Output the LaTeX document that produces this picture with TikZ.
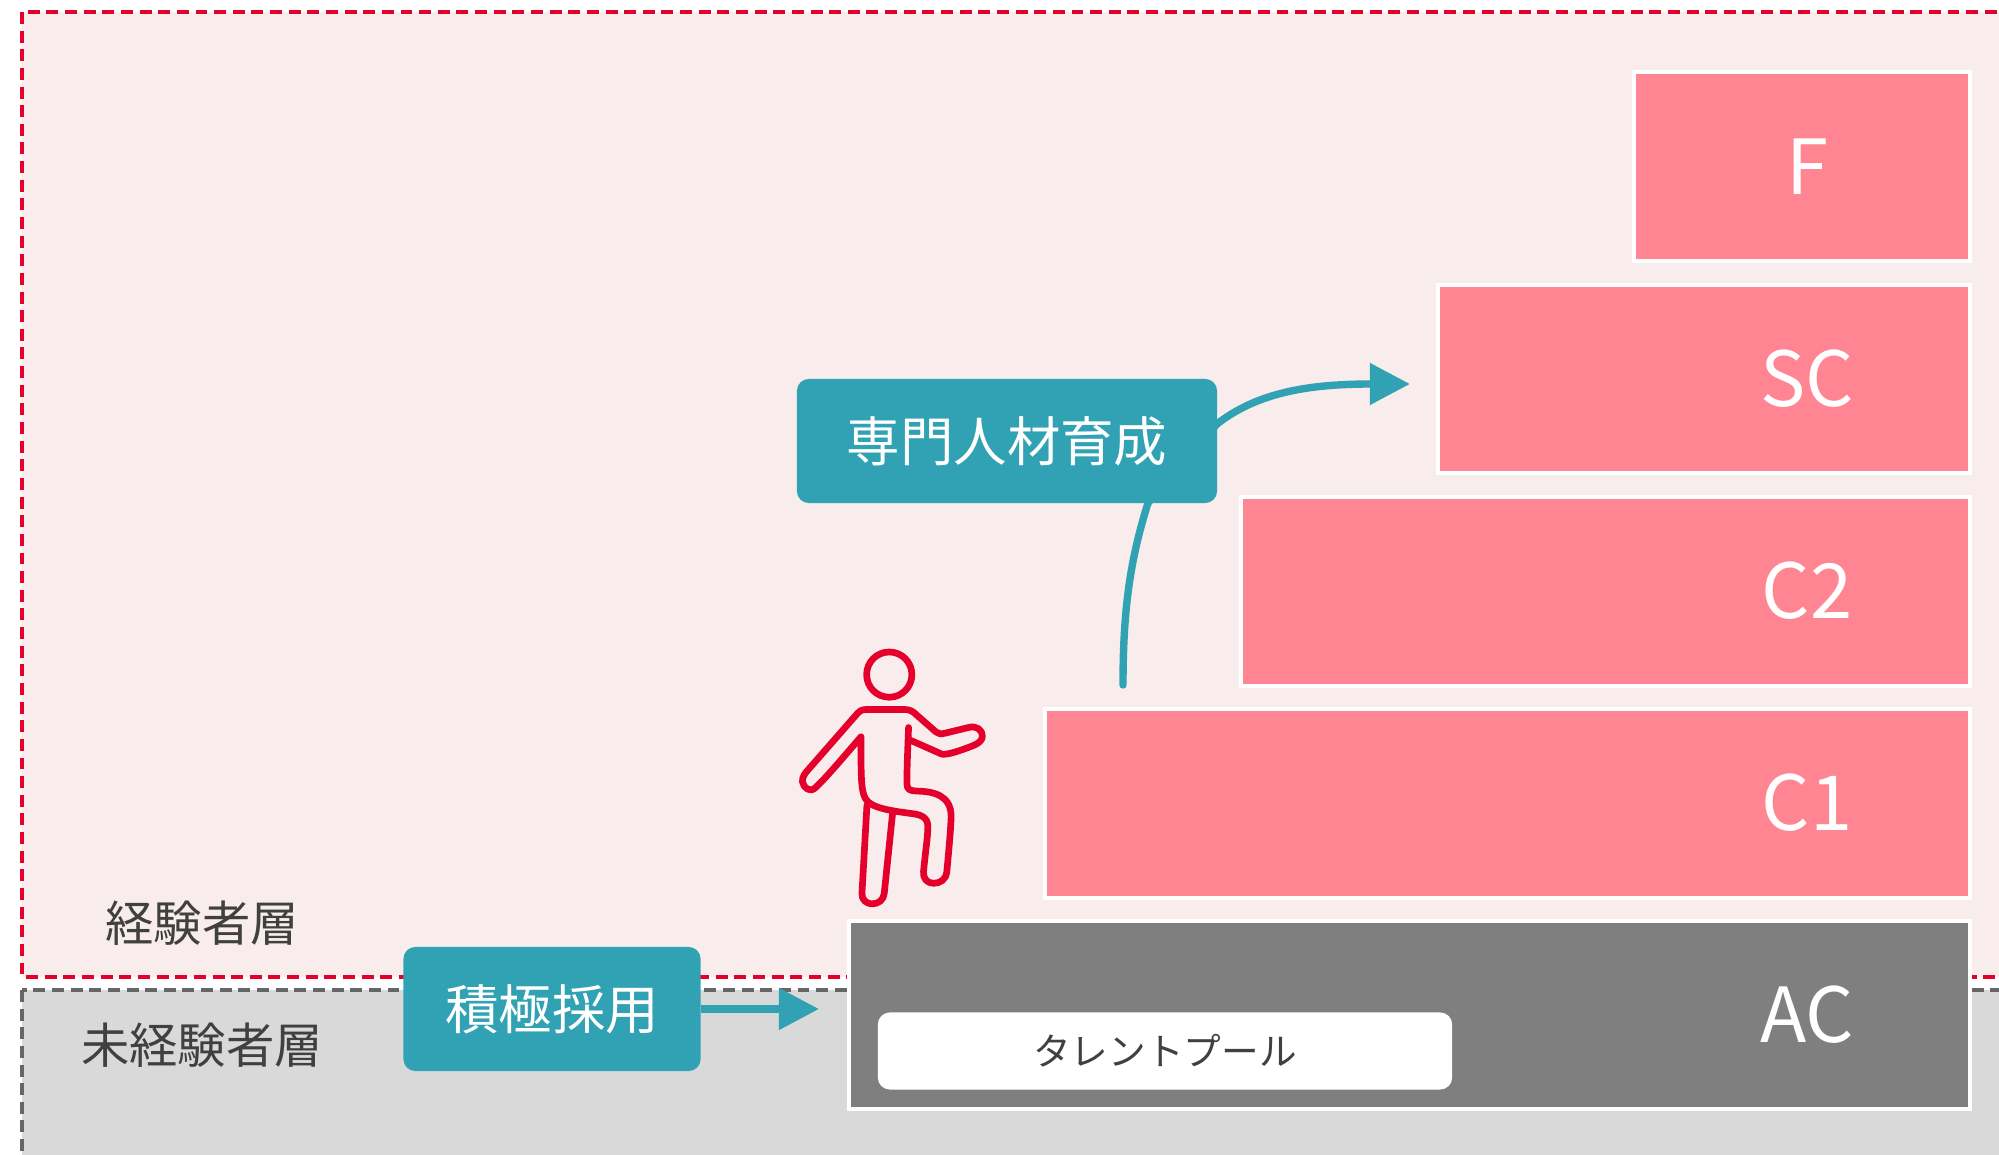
\documentclass[tikz,border=0pt]{standalone}
\usepackage{fontspec}
\setmainfont{Noto Sans CJK JP}
\usetikzlibrary{arrows.meta}
\definecolor{bgpink}{HTML}{F8ECEC}
\definecolor{bggray}{HTML}{D9D9D9}
\definecolor{lvlpink}{HTML}{FF8593}
\definecolor{lvlgray}{HTML}{7F7F7F}
\definecolor{tealbox}{HTML}{31A2B3}
\definecolor{redline}{HTML}{E4002B}
\definecolor{darktext}{HTML}{404040}
\tikzset{
    levelbox/.style={draw=white, line width=1.14pt},
    levellabel/.style={text=white, font=\fontsize{21.6}{26}\selectfont, inner sep=0pt},
    tealnode/.style={fill=tealbox, rounded corners=3.4pt, inner sep=0pt, text=white, font=\fontsize{15.2}{18}\selectfont},
    layerlabel/.style={text=darktext, font=\fontsize{13.75}{16}\selectfont, inner sep=0pt},
    tealarrow/.style={draw=tealbox, -{Triangle[length=11.4pt,width=11.4pt]}},
    layerline/.style={line width=0.95pt, dash pattern=on 3.4pt off 1.9pt},
    personline/.style={draw=redline, line width=1.9pt, line join=round, line cap=round}
}

\begin{document}
\begin{tikzpicture}[x=0.01cm,y=-0.01cm]
        \useasboundingbox (0,0) rectangle (1999,1155);

        % layers
        \filldraw [fill=bgpink, draw=redline, layerline] (22,12) rectangle (2020,977);
        \filldraw [fill=bggray, draw=black!60, layerline] (22,990) rectangle (2020,1175);

        % levels
        \filldraw [levelbox, fill=lvlpink] (1634,72) rectangle (1970,261);
        \filldraw [levelbox, fill=lvlpink] (1438,285) rectangle (1970,473);
        \filldraw [levelbox, fill=lvlpink] (1241,497) rectangle (1970,686);
        \filldraw [levelbox, fill=lvlpink] (1045,709) rectangle (1970,898);
        \filldraw [levelbox, fill=lvlgray] (849,921) rectangle (1970,1109);
        \node [levellabel] (levelF) at (1807,167) {F};
        \node [levellabel] (levelSC) at (1807,379) {SC};
        \node [levellabel] (levelCtwo) at (1807,591) {C2};
        \node [levellabel] (levelCone) at (1807,803) {C1};
        \node [levellabel] (levelAC) at (1807,1015) {AC};

        % talent pool
        \node [fill=white, rounded corners=3.4pt, minimum width=5.74cm, minimum height=0.77cm, inner sep=0pt,
               text=darktext, font=\fontsize{10.7}{13}\selectfont] (pool) at (1165,1051) {タレントプール};

        % layer names
        \node [layerlabel] (expert) at (202,923) {経験者層};
        \node [layerlabel] (novice) at (202,1045) {未経験者層};

        % arrow behind the training box
        \coordinate (climbstart) at (1123,685);
        \coordinate (climbend) at (1410,384);
        \draw [tealarrow, line width=2.1pt, line cap=round] (climbstart) .. controls (1123,610) and (1130,560) .. (1148,503)
            -- (1217,424) .. controls (1258,392) and (1310,384) .. (climbend);

        % teal boxes
        \node [tealnode, minimum width=2.97cm, minimum height=1.24cm] (hiring) at (552,1009) {積極採用};
        \node [tealnode, minimum width=4.2cm, minimum height=1.24cm] (training) at (1007,441) {専門人材育成};
        \coordinate (hiringend) at (819,1009);
        \draw [tealarrow, line width=2.2pt] (hiring.east) -- (hiringend);

        % person
        \begin{scope}[xshift=7.7cm, yshift=-6.2cm, x=0.00333cm, y=-0.00333cm]
        \draw [personline] (357,163) circle (68);
        \draw [personline] (415,322) .. controls (412,400) and (410,450) .. (410,490)
            .. controls (410,510) and (420,512) .. (440,513)
            .. controls (490,514) and (543,525) .. (543,590)
            .. controls (541,640) and (535,700) .. (530,755)
            .. controls (527,780) and (510,790) .. (490,790)
            .. controls (470,790) and (458,775) .. (460,755)
            .. controls (465,700) and (473,650) .. (473,620)
            .. controls (473,590) and (450,583) .. (420,580)
            .. controls (370,573) and (300,565) .. (285,535)
            .. controls (272,510) and (272,470) .. (272,350)
            .. controls (220,410) and (170,470) .. (135,503)
            .. controls (120,518) and (100,505) .. (96,485)
            .. controls (95,470) and (105,458) .. (115,447)
            -- (255,287)
            .. controls (265,275) and (272,268) .. (285,268)
            -- (405,268)
            .. controls (420,268) and (430,275) .. (440,285)
            -- (497,335)
            .. controls (505,342) and (512,342) .. (525,339)
            -- (595,322)
            .. controls (620,315) and (637,330) .. (637,348)
            .. controls (637,360) and (625,370) .. (610,376)
            .. controls (570,392) and (530,405) .. (515,402)
            -- (420,360);
        \draw [personline] (290,555) -- (275,820)
            .. controls (273,840) and (290,852) .. (305,852)
            .. controls (325,852) and (340,840) .. (342,820)
            -- (367,580);
        \end{scope}

\end{tikzpicture}
\end{document}
